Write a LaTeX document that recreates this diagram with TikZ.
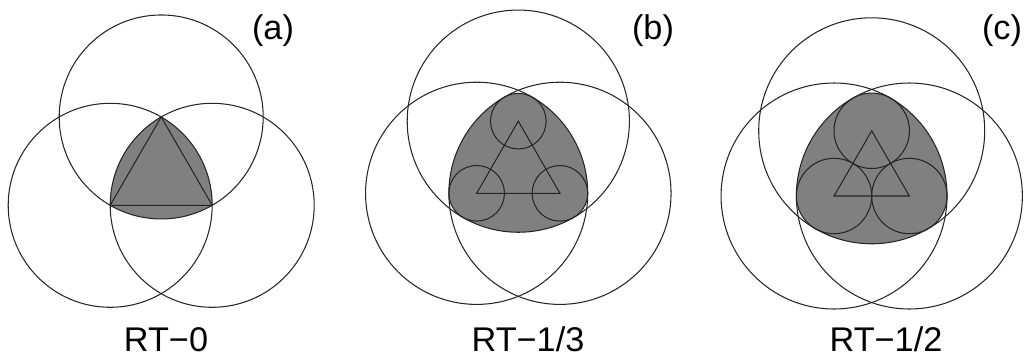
\documentclass[tikz,border=0pt]{standalone}
\usepackage{fontspec}
\setmainfont{Liberation Sans}
\usetikzlibrary{calc}
\definecolor{rtgray}{RGB}{128,128,128}

\begin{document}
\begin{tikzpicture}[x=0.02cm, y=0.02cm, line width=0.6pt,
    rtline/.style={draw=black!85, line width=0.6pt},
    rtlabel/.style={anchor=base, font=\fontsize{19.5}{22}\selectfont, inner sep=0pt}]
  \useasboundingbox (0,0) rectangle (1024,356);

  % one panel per rounding radius: centre x, base y, side, radius, tag x, tag, name x, name
  \foreach \cx/\by/\sd/\rr/\tx/\lt/\nx/\rt in {%
      161.2/150.7/102/0/273/a/166/{RT−0},
      518.3/162.7/83.3/27.8/653/b/528/{RT−1/3},
      871.7/160/75.3/37.7/1002/c/886/{RT−1/2}} {
    \coordinate (B) at (\cx-\sd/2, \by);
    \coordinate (C) at (\cx+\sd/2, \by);
    \coordinate (A) at (\cx, \by+0.8660254*\sd);
    \pgfmathsetmacro{\R}{\sd+\rr}
    \pgfmathsetmacro{\rf}{max(\rr,0.01)}

    % shaded rounded Reuleaux triangle
    \fill[rtgray] ($(B)+(\R,0)$)
      arc[start angle=0, end angle=60, radius=\R]
      arc[start angle=60, end angle=120, radius=\rf]
      arc[start angle=120, end angle=180, radius=\R]
      arc[start angle=180, end angle=240, radius=\rf]
      arc[start angle=240, end angle=300, radius=\R]
      arc[start angle=300, end angle=360, radius=\rf] -- cycle;

    % big circles round the vertices
    \draw[rtline] (A) circle[radius=\R];
    \draw[rtline] (B) circle[radius=\R];
    \draw[rtline] (C) circle[radius=\R];

    % small circles at the vertices
    \ifdim\rr pt>0pt
      \draw[rtline] (A) circle[radius=\rr];
      \draw[rtline] (B) circle[radius=\rr];
      \draw[rtline] (C) circle[radius=\rr];
    \fi

    % triangle
    \draw[rtline] (A) -- (B) -- (C) -- cycle;

    \node[rtlabel] (tag\lt) at (\tx, 316.5) {(\lt)};
    \node[rtlabel] (name\lt) at (\nx, 5) {\rt};
  }
\end{tikzpicture}
\end{document}
